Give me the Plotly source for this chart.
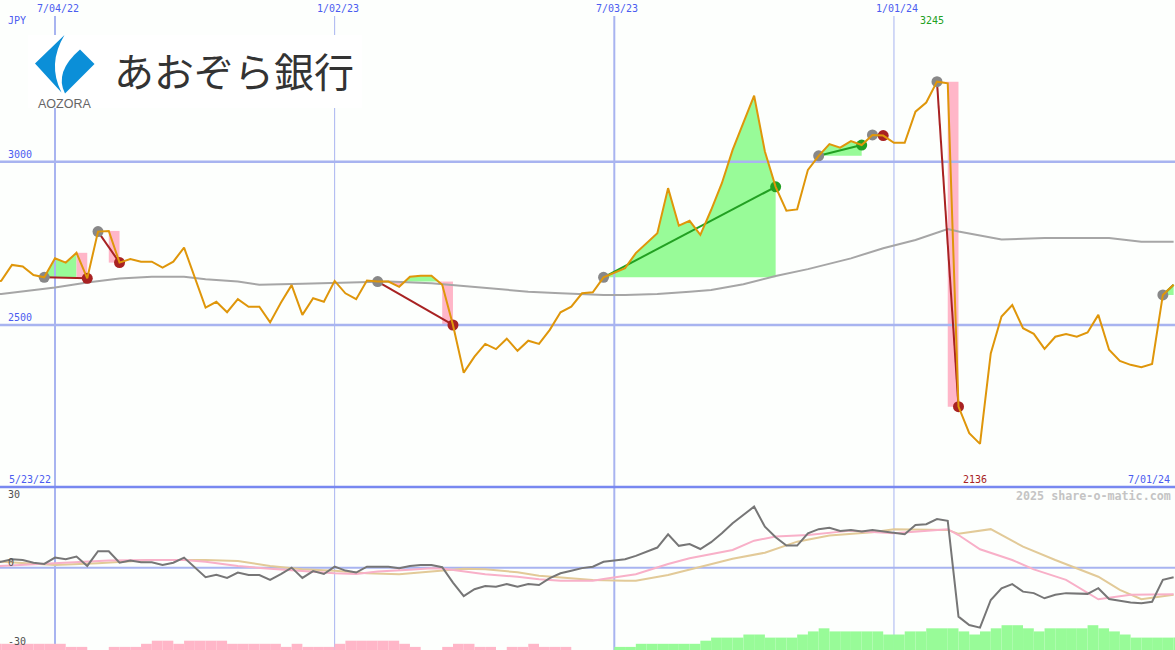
import pandas as pd
import plotly.graph_objects as go

W, H = 1175, 650

# ---------------- data ----------------
dates = pd.date_range("2022-05-23", periods=111, freq="7D")  # weekly closes

price = [2630, 2635, 2684, 2679, 2653, 2646, 2704, 2691, 2721, 2643,
         2786, 2788, 2691, 2702, 2694, 2694, 2676, 2694, 2737, 2645,
         2553, 2571, 2539, 2579, 2556, 2556, 2508, 2568, 2622, 2531,
         2582, 2571, 2635, 2597, 2579, 2636, 2633, 2633, 2617, 2648,
         2651, 2651, 2623, 2500, 2354, 2403, 2442, 2426, 2458, 2421,
         2452, 2442, 2485, 2539, 2556, 2597, 2600, 2646, 2661, 2674,
         2720, 2750, 2781, 2919, 2804, 2819, 2776, 2852, 2934, 3036,
         3118, 3202, 3031, 2923, 2850, 2854, 2975, 3018, 3054, 3043,
         3063, 3051, 3082, 3080, 3058, 3058, 3153, 3181, 3245, 3240,
         2250, 2169, 2136, 2413, 2526, 2561, 2490, 2473, 2427, 2464,
         2472, 2464, 2477, 2531, 2424, 2390, 2378, 2371, 2381, 2592,
         2623]

# moving average (read at selected weeks, week number from first date)
ma_week = [0, 1, 6, 9, 12, 15, 18, 20, 23, 25, 29, 32, 35, 37, 41, 45, 50, 53,
           57, 59, 62, 65, 67, 70, 73, 76, 80, 83, 86, 89, 90, 94, 98, 104, 107, 110]
ma_val = [2592, 2595, 2615, 2630, 2642, 2648, 2648, 2640, 2633, 2623, 2626, 2628,
          2630, 2633, 2628, 2617, 2602, 2597, 2592, 2592, 2595, 2602, 2607, 2625,
          2650, 2671, 2704, 2735, 2760, 2794, 2786, 2762, 2766, 2766, 2755, 2755]

# oscillator (lower panel, dark gray)
osc = [2.0, 2.4, 3.4, 3.1, 2.0, 1.5, 4.1, 3.4, 4.5, 0.7,
       6.7, 6.7, 2.0, 2.9, 2.2, 2.2, 1.1, 2.0, 4.1, 0.2,
       -3.9, -2.9, -4.2, -2.0, -3.0, -3.0, -5.0, -2.6, 0.0, -4.2,
       -1.4, -2.6, 0.4, -1.2, -2.0, 0.4, 0.4, 0.4, -0.2, 0.7,
       1.1, 1.1, 0.2, -6.1, -11.6, -8.8, -7.5, -7.8, -6.7, -7.8,
       -6.7, -7.1, -4.3, -2.3, -1.3, -0.2, 0.4, 2.4, 2.9, 3.4,
       4.8, 6.5, 8.2, 13.6, 8.9, 9.6, 7.6, 10.4, 14.0, 18.1,
       21.5, 24.9, 16.7, 12.4, 9.0, 9.0, 14.0, 15.7, 16.3, 15.0,
       15.4, 14.7, 15.4, 14.7, 14.3, 13.6, 17.4, 17.7, 19.8, 19.1,
       -20.0, -23.4, -24.5, -13.2, -8.4, -6.7, -9.8, -10.4, -12.5, -11.1,
       -10.4, -10.6, -10.7, -8.4, -12.8, -13.5, -14.2, -14.5, -13.9, -5.0,
       -3.9]

pink_week = [0, 1, 6, 11, 15, 18, 20, 23, 26, 28, 32, 34, 36, 39, 41, 42, 44, 46, 49, 51,
             53, 56, 57, 60, 63, 65, 69, 71, 73, 76, 80, 84, 89, 90, 92, 95, 97, 100, 103, 106, 110]
pink_val = [0.5, 0.7, 2.0, 2.9, 3.1, 3.1, 2.4, 0.7, -0.5, -1.2,
            -2.3, -2.6, -1.6, -0.9, -0.2, -0.4, -1.6, -2.7, -3.7, -4.7,
            -5.3, -5.3, -4.6, -2.7, 1.5, 3.8, 7.2, 11.0, 12.7, 13.3,
            15.1, 14.0, 15.7, 13.3, 7.5, 3.1, -0.7, -5.0, -12.9, -11.1, -10.9]

tan_week = [0, 1, 6, 10, 15, 20, 23, 26, 29, 32, 35, 38, 41, 42, 44, 46, 49, 51, 54, 56,
            59, 60, 63, 66, 69, 72, 75, 78, 82, 84, 89, 90, 93, 96, 99, 103, 105, 107, 110]
tan_val = [2.5, 2.4, 1.1, 1.8, 3.1, 3.1, 2.7, 0.7, -0.7, -1.3,
           -2.3, -2.7, -1.6, -1.2, -0.5, -0.7, -1.9, -3.3, -4.3, -5.0,
           -5.3, -5.3, -3.0, 0.4, 3.6, 6.1, 10.6, 13.1, 14.4, 15.7,
           15.4, 13.8, 15.7, 8.6, 3.1, -3.7, -9.1, -12.9, -11.1]

# trend strength histogram (negative = pink, positive = green)
trend = [-2, -2, -2, -2, -2, -2, -2, -1, -1, 0,
         0, -1, -1, -1, -2, -3, -3, -2, -3, -3,
         -3, -3, -2, -2, -2, -2, -2, -1, -2, -1,
         -1, -1, -2, -3, -3, -3, -3, -3, -2, -1,
         0, 0, -1, -2, -2, -1, -1, 0, -1, -1,
         -2, -1, -1, -1, 0, 0, 0, 0, 1, 1,
         2, 2, 2, 2, 2, 2, 3, 4, 4, 4,
         5, 5, 4, 4, 4, 5, 6, 7, 6, 6,
         6, 6, 6, 5, 5, 6, 6, 7, 7, 7,
         6, 5, 6, 7, 8, 8, 7, 6, 7, 7,
         7, 7, 8, 7, 6, 5, 4, 4, 4, 4,
         4]

trade_entry = ["2022-06-27", "2022-08-01", "2023-01-30", "2023-06-26",
               "2023-11-13", "2023-12-18", "2024-01-29", "2024-06-24"]
trade_exit = ["2022-07-25", "2022-08-15", "2023-03-20", "2023-10-16",
              "2023-12-11", "2023-12-25", "2024-02-12", None]

grid_dates = ["2022-07-04", "2023-01-02", "2023-07-03", "2024-01-01"]
price_ticks = [3000, 2500]
osc_ticks = [30, 0, -30]

# ---------------- styling ----------------
BG = "#fdfffd"
GRID = "#a8b4f0"
BLUE_TXT = "#4b5cf0"
GOLD = "#df960a"
MA_COL = "#a6a6a6"
GREEN_F = "#98fb98"
PINK_F = "#ffb6c8"
RED = "#a82222"
GREEN = "#22a022"
ENTRY = "#888888"
MONO = "DejaVu Sans Mono"

X_RANGE = ["2022-05-29 05:00", "2024-07-01 21:40"]
Y_MAIN = [2004, 3495]
Y_OSC = [-33.6, 32.9]
Y_BAR = [0, 52.6]
MAIN_BOTTOM_PX = 487


def yp(py):
    return 1 - py / H


def xp(px):
    return px / W


def main_val(py):
    return Y_MAIN[1] - py * (Y_MAIN[1] - Y_MAIN[0]) / MAIN_BOTTOM_PX


idx = {d: i for i, d in enumerate(dates)}

fig = go.Figure()


def poly(xs, ys, color):
    fig.add_trace(go.Scatter(x=xs, y=ys, mode="lines", fill="toself",
                             fillcolor=color, line=dict(width=0, color=color),
                             hoverinfo="skip"))


def seg(i0, i1, E):
    ts, ps = [], []
    for i in range(i0, i1 + 1):
        t, p = dates[i], price[i]
        if i > i0:
            tp, pp = dates[i - 1], price[i - 1]
            if (pp - E) * (p - E) < 0:
                f = (E - pp) / (p - pp)
                ts.append(tp + (t - tp) * f)
                ps.append(E)
        ts.append(t)
        ps.append(p)
    return ts, ps


trades = []
for ent, ext in zip(trade_entry, trade_exit):
    i0 = idx[pd.Timestamp(ent)]
    E = price[i0]
    if ext is None:
        ie = len(dates) - 1
        loss = price[ie] < E
        i1 = ie
        closed = False
    else:
        ie = idx[pd.Timestamp(ext)]
        loss = price[ie] < E
        i1 = ie - 1 if loss else ie
        closed = True
    trades.append((i0, ie, loss, closed))
    ts, ps = seg(i0, i1, E)
    up = [max(p, E) for p in ps]
    dn = [min(p, E) for p in ps]
    poly(ts + ts[::-1], up + [E] * len(ts), GREEN_F)
    poly(ts + ts[::-1], dn + [E] * len(ts), PINK_F)
    if loss and closed:
        top = max(E, price[ie - 1])
        poly([dates[ie - 1], dates[ie], dates[ie], dates[ie - 1], dates[ie - 1]],
             [top, top, price[ie], price[ie], top], PINK_F)

# main grid lines (drawn over the fills)
for d in grid_dates:
    ts = pd.Timestamp(d)
    fig.add_trace(go.Scatter(x=[ts, ts], y=[Y_MAIN[0], main_val(16)], mode="lines",
                             line=dict(color=GRID, width=2 if ts.month == 7 else 1),
                             hoverinfo="skip"))
for v in price_ticks:
    fig.add_trace(go.Scatter(x=X_RANGE, y=[v, v], mode="lines",
                             line=dict(color=GRID, width=2.4), hoverinfo="skip"))

# moving average
fig.add_trace(go.Scatter(x=[dates[w] for w in ma_week], y=ma_val, mode="lines",
                         line=dict(color=MA_COL, width=2), hoverinfo="skip"))

# trade connection lines and markers
for i0, ie, loss, closed in trades:
    col = RED if loss else GREEN
    fig.add_trace(go.Scatter(x=[dates[i0], dates[ie]], y=[price[i0], price[ie]],
                             mode="lines", line=dict(color=col, width=2), hoverinfo="skip"))
for i0, ie, loss, closed in trades:
    fig.add_trace(go.Scatter(x=[dates[i0]], y=[price[i0]], mode="markers",
                             marker=dict(color=ENTRY, size=11, line=dict(width=0))))
    if closed:
        fig.add_trace(go.Scatter(x=[dates[ie]], y=[price[ie]], mode="markers",
                                 marker=dict(color=RED if loss else GREEN, size=11,
                                             line=dict(width=0))))

# price line
fig.add_trace(go.Scatter(x=dates, y=price, mode="lines",
                         line=dict(color=GOLD, width=2), hoverinfo="skip"))

# lower panel: histogram bars
fig.add_trace(go.Bar(x=dates, y=[abs(v) for v in trend], yaxis="y2",
                     marker=dict(color=[PINK_F if v < 0 else GREEN_F for v in trend],
                                 line=dict(width=0)),
                     width=7 * 86400000, offset=0, hoverinfo="skip"))
# lower panel lines
fig.add_trace(go.Scatter(x=[dates[w] for w in tan_week], y=tan_val, yaxis="y3",
                         mode="lines", line=dict(color="#e2ca98", width=2), hoverinfo="skip"))
fig.add_trace(go.Scatter(x=[dates[w] for w in pink_week], y=pink_val, yaxis="y3",
                         mode="lines", line=dict(color="#f8b0c8", width=2), hoverinfo="skip"))
fig.add_trace(go.Scatter(x=dates, y=osc, yaxis="y3", mode="lines",
                         line=dict(color="#767676", width=2), hoverinfo="skip"))

shapes = []
# lower panel grid
for d in grid_dates:
    ts = pd.Timestamp(d)
    shapes.append(dict(type="line", xref="x", yref="paper", x0=ts, x1=ts,
                       y0=0, y1=yp(MAIN_BOTTOM_PX), layer="below",
                       line=dict(color=GRID, width=2 if ts.month == 7 else 1)))
shapes.append(dict(type="line", xref="paper", yref="y3", x0=0, x1=1, y0=0, y1=0,
                   layer="below", line=dict(color=GRID, width=2)))
# separator
shapes.append(dict(type="line", xref="paper", yref="paper", x0=0, x1=1,
                   y0=yp(MAIN_BOTTOM_PX), y1=yp(MAIN_BOTTOM_PX), layer="above",
                   line=dict(color="#7888f0", width=2.5)))

# logo box and mark
shapes.append(dict(type="rect", xref="paper", yref="paper", x0=xp(28), x1=xp(362),
                   y0=yp(108), y1=yp(35), fillcolor="#ffffff", line=dict(width=0),
                   layer="above"))


def pth(cmds):
    out = []
    for c in cmds:
        if isinstance(c, str):
            out.append(c)
        else:
            out.append(f"{xp(c[0]):.5f},{yp(c[1]):.5f}")
    return " ".join(out)


left_piece = pth(["M", (64.5, 35), "L", (35, 63.5), "L", (61.5, 92.5),
                  "Q", (47, 64), (64.5, 35), "Z"])
right_piece = pth(["M", (80, 49.5), "L", (94.5, 64), "L", (65, 93.5),
                   "Q", (54, 72), (80, 49.5), "Z"])
for pp in (left_piece, right_piece):
    shapes.append(dict(type="path", xref="paper", yref="paper", path=pp,
                       fillcolor="#0b8fd8", line=dict(width=0), layer="above"))

ann = []


def label(text, x, y, color, size=10, xref="paper", yref="paper", xanchor="center",
          yanchor="middle", family=MONO, xshift=0, yshift=0):
    ann.append(dict(text=text, x=x, y=y, xref=xref, yref=yref, xanchor=xanchor,
                    yanchor=yanchor, showarrow=False, xshift=xshift, yshift=yshift,
                    font=dict(family=family, size=size, color=color)))


def fmt(d):
    return f"{d.month}/{d.day:02d}/{d.year % 100:02d}"


for d in grid_dates:
    ts = pd.Timestamp(d)
    label(fmt(ts), ts, yp(9), BLUE_TXT, xref="x", xshift=3)
label("JPY", xp(6), yp(21), BLUE_TXT, xanchor="left")
for v in price_ticks:
    label(str(v), xp(6), v, BLUE_TXT, yref="y", xanchor="left", yanchor="bottom")

imax = max(range(len(price)), key=lambda i: price[i])
imin = min(range(len(price)), key=lambda i: price[i])
label(str(price[imax]), dates[imax], yp(21), GREEN, xref="x", xshift=-5)
label(str(price[imin]), dates[imin], yp(479), RED, xref="x", xshift=-5)
label(fmt(dates[0]), xp(7), yp(479), BLUE_TXT, xanchor="left")
label(fmt(dates[-1]), xp(1172), yp(479), BLUE_TXT, xanchor="right")
ann.append(dict(text="<b>2025 share-o-matic.com</b>", x=xp(1173), y=yp(496),
                xref="paper", yref="paper", xanchor="right", yanchor="middle",
                showarrow=False, font=dict(family=MONO, size=11.7, color="#c4c4c4")))
for v in osc_ticks:
    label(str(v), xp(6), v, "#505050", yref="y3", xanchor="left",
          yshift=5 if v == 0 else 0)

# logo texts
label("あおぞら銀行", xp(234), yp(70), "#333333", size=40, family="Noto Sans CJK JP")
label("AOZORA", xp(64), yp(104), "#666666", size=12.5, family="Liberation Sans")

fig.update_layout(
    width=W, height=H, margin=dict(l=0, r=0, t=0, b=0, pad=0),
    paper_bgcolor=BG, plot_bgcolor=BG, showlegend=False, hovermode=False,
    xaxis=dict(type="date", range=X_RANGE, visible=False, showgrid=False),
    yaxis=dict(domain=[yp(MAIN_BOTTOM_PX), 1], range=Y_MAIN, visible=False, showgrid=False),
    yaxis2=dict(domain=[0, yp(MAIN_BOTTOM_PX)], range=Y_BAR, visible=False,
                showgrid=False, anchor="x"),
    yaxis3=dict(overlaying="y2", range=Y_OSC, visible=False, showgrid=False, anchor="x"),
    shapes=shapes, annotations=ann,
)

fig.write_html("out.html", config={"displayModeBar": False},
               post_script="document.body.style.margin='0';document.body.style.padding='0';")
